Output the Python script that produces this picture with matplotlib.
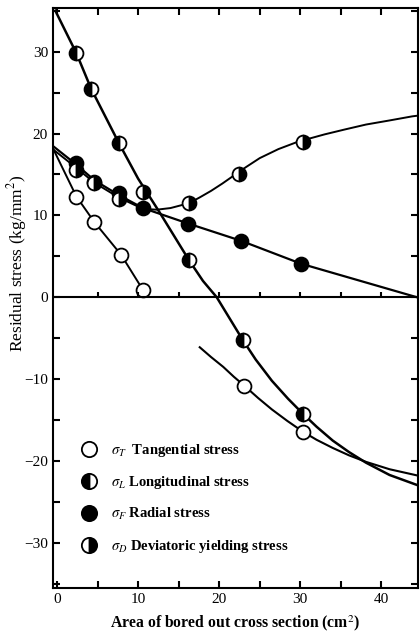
import matplotlib
matplotlib.use('Agg')
import matplotlib.pyplot as plt
from matplotlib.lines import Line2D
import numpy as np

plt.rcParams['font.family'] = ['Liberation Serif', 'DejaVu Serif']
plt.rcParams['mathtext.fontset'] = 'stix'

# measured points (area cm^2, stress kg/mm^2)
long_x = [2.4, 4.2, 7.6, 16.3, 22.9, 30.3]
long_y = [29.8, 25.5, 18.9, 4.5, -5.2, -14.2]
tang_x = [2.4, 4.6, 7.9, 10.6, 23.1, 30.3]
tang_y = [12.3, 9.2, 5.2, 0.9, -10.8, -16.4]
rad_x = [2.4, 4.6, 7.6, 10.6, 16.2, 22.7, 30.1]
rad_y = [16.4, 14.1, 12.7, 10.9, 9.0, 6.9, 4.1]
dev_x = [2.4, 4.6, 7.6, 10.6, 16.3, 22.5, 30.3]
dev_y = [15.6, 13.9, 12.0, 12.9, 11.5, 15.0, 19.0]

# drawn curves
long_cx = [-0.2, 2.4, 4.2, 7.6, 10.0, 12.7, 16.3, 18.0, 19.7, 21.3, 22.9, 24.5, 26.5,
           28.5, 30.3, 32.0, 34.0, 36.0, 38.1, 41.0, 44.6]
long_cy = [35.0, 29.8, 25.5, 18.9, 14.5, 10.3, 4.5, 2.0, 0.0, -2.6, -5.2, -7.6, -10.2,
           -12.4, -14.2, -15.8, -17.5, -18.9, -20.2, -21.7, -23.0]
tang1_cx = [-0.4, 2.4, 4.6, 7.9, 10.6]
tang1_cy = [18.0, 12.3, 9.2, 5.2, 0.9]
tang2_cx = [17.6, 19.0, 20.5, 21.8, 23.1, 24.8, 26.5, 28.4, 30.3, 32.0, 34.0, 36.0,
            38.1, 41.0, 44.6]
tang2_cy = [-6.1, -7.3, -8.5, -9.7, -10.8, -12.3, -13.7, -15.1, -16.4, -17.4, -18.4,
            -19.3, -20.1, -21.0, -21.8]
rad_cx = [-0.4, 2.4, 4.6, 7.6, 10.6, 16.2, 22.7, 30.1, 44.4]
rad_cy = [18.4, 16.2, 14.3, 12.5, 10.9, 9.0, 6.9, 4.1, 0.0]
dev_cx = [-0.4, 2.4, 4.6, 7.6, 10.6, 12.3, 14.0, 16.3, 17.6, 19.0, 20.4, 21.7, 23.3,
          25.0, 27.3, 29.7, 33.0, 35.5, 38.1, 41.0, 43.8, 44.6]
dev_cy = [18.0, 15.8, 14.0, 12.2, 10.8, 10.7, 10.9, 11.5, 12.2, 13.0, 13.9, 14.8, 15.9,
          17.0, 18.1, 19.0, 19.9, 20.5, 21.1, 21.6, 22.1, 22.2]

legend_labels = [r'$\sigma_T$  Tangential stress',
                 r'$\sigma_L$ Longitudinal stress',
                 r'$\sigma_F$ Radial stress',
                 r'$\sigma_D$ Deviatoric yielding stress']

fig = plt.figure(figsize=(4.2, 6.37), dpi=100)
ax = fig.add_axes([0.126, 0.077, 0.869, 0.91])

ax.plot(long_cx, long_cy, color='black', lw=1.8)
ax.plot(tang1_cx, tang1_cy, color='black', lw=1.4)
ax.plot(tang2_cx, tang2_cy, color='black', lw=1.5)
ax.plot(rad_cx, rad_cy, color='black', lw=1.6)
ax.plot(dev_cx, dev_cy, color='black', lw=1.4)

ms = 10
ax.plot(tang_x, tang_y, 'o', ms=ms, mfc='white', mec='black', mew=1.3)
ax.plot(rad_x, rad_y, 'o', ms=ms, mfc='black', mec='black', mew=1.3)
ax.plot(dev_x, dev_y, 'o', ms=ms, fillstyle='right', mfc='black', mfcalt='white',
        mec='black', mew=1.3)
ax.plot(long_x, long_y, 'o', ms=ms, fillstyle='left', mfc='black', mfcalt='white',
        mec='black', mew=1.3)

# zero line with its own small ticks
ax.axhline(0, color='black', lw=1.5)
ax.vlines(np.arange(5, 45, 5), 0, 0.7, color='black', lw=1.5)

ax.set_xlim(-0.5, 44.5)
ax.set_ylim(-35.5, 35.3)
ax.set_xticks(np.arange(0, 45, 5))
ax.set_xticklabels(['0', '', '10', '', '20', '', '30', '', '40'])
ax.set_yticks(np.arange(-35, 36, 5))
ax.set_yticklabels(['' if v % 10 else str(v).replace('-', '\u2212') for v in range(-35, 36, 5)])
ax.tick_params(direction='in', length=5, width=1.5, top=True, right=True, labelsize=11)
for s in ax.spines.values():
    s.set_linewidth(1.5)

ax.set_xlabel('Area of bored out cross section (cm$^2$)', fontsize=11.3, fontweight='bold', labelpad=5)
ax.set_ylabel('Residual stress (kg/mm$^2$)', fontsize=12.5)
ax.yaxis.set_label_coords(-0.065, 0.56)

handles = [
    Line2D([], [], ls='none', marker='o', ms=11, mfc='white', mec='black', mew=1.3),
    Line2D([], [], ls='none', marker='o', ms=11, fillstyle='left', mfc='black', mfcalt='white', mec='black', mew=1.3),
    Line2D([], [], ls='none', marker='o', ms=11, mfc='black', mec='black', mew=1.3),
    Line2D([], [], ls='none', marker='o', ms=11, fillstyle='right', mfc='black', mfcalt='white', mec='black', mew=1.3),
]
ax.legend(handles, legend_labels, loc='upper left', bbox_to_anchor=(0.04, 0.275),
          frameon=False, prop={'weight': 'bold', 'size': 10.5}, labelspacing=1.05,
          handletextpad=0.9, handlelength=1.2)

fig.savefig('out.png', dpi=100)
